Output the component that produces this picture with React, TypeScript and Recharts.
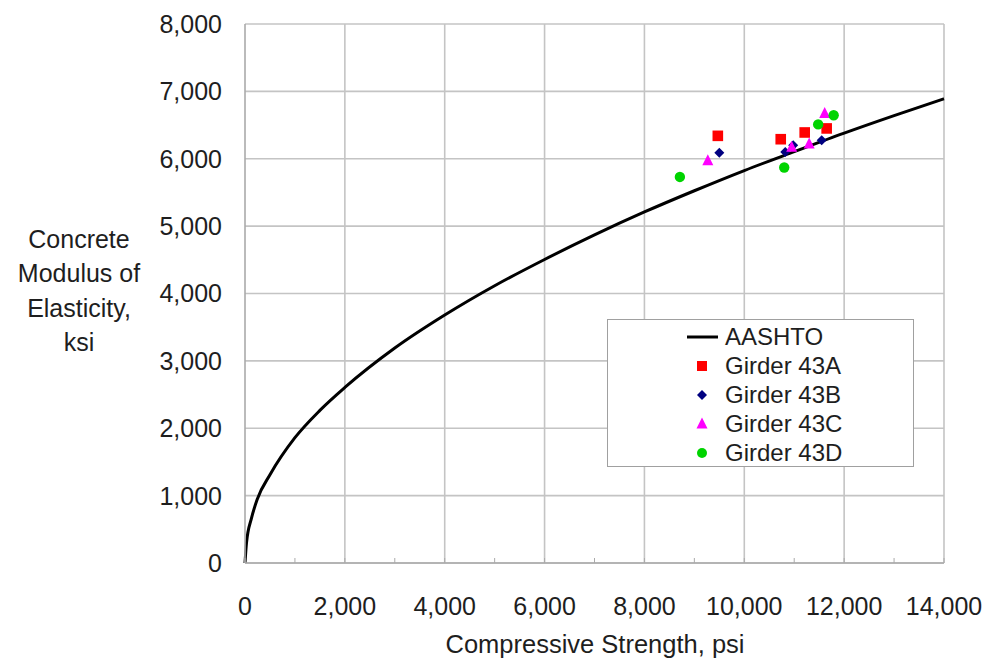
import React from "react";
import {
  ComposedChart,
  Line,
  Scatter,
  XAxis,
  YAxis,
  CartesianGrid,
  ReferenceLine,
} from "recharts";

// AASHTO design curve
const aashtoStrength = [0, 30, 130, 250, 500, 1000, 1500, 2000, 3000, 4000, 5000, 6000, 7000, 8000, 9000, 10000, 11000, 12000, 13000, 14000];
const aashtoModulus = [0, 300, 665, 955, 1310, 1860, 2265, 2605, 3190, 3680, 4115, 4505, 4870, 5210, 5525, 5825, 6105, 6380, 6640, 6890];

// measured girder points
const g43AStrength = [9470, 10730, 11210, 11650];
const g43AModulus = [6340, 6290, 6390, 6450];
const g43BStrength = [9500, 10820, 10980, 11550];
const g43BModulus = [6090, 6100, 6200, 6275];
const g43CStrength = [9270, 10950, 11300, 11610];
const g43CModulus = [5970, 6170, 6220, 6670];
const g43DStrength = [8710, 10800, 11480, 11790];
const g43DModulus = [5730, 5870, 6510, 6645];

const xTicks = [0, 1000, 2000, 3000, 4000, 5000, 6000, 7000, 8000, 9000, 10000, 11000, 12000, 13000, 14000];
const xGrid = [2000, 4000, 6000, 8000, 10000, 12000, 14000];
const yTicks = [0, 1000, 2000, 3000, 4000, 5000, 6000, 7000, 8000];

const zip = (xs: number[], ys: number[]) => xs.map((x, i) => ({ x, y: ys[i] }));

const aashto = zip(aashtoStrength, aashtoModulus);
const g43A = zip(g43AStrength, g43AModulus);
const g43B = zip(g43BStrength, g43BModulus);
const g43C = zip(g43CStrength, g43CModulus);
const g43D = zip(g43DStrength, g43DModulus);

const FONT = "'Liberation Sans', Arial, sans-serif";
const GRID = "#c4c4c4";
const TEXT = "#1e1e1e";

const Square = ({ cx, cy }: any) => <rect x={cx - 5.3} y={cy - 5.3} width={10.6} height={10.6} fill="#ff0000" />;
const Diamond = ({ cx, cy }: any) => (
  <polygon points={`${cx},${cy - 5} ${cx + 5},${cy} ${cx},${cy + 5} ${cx - 5},${cy}`} fill="#000080" />
);
const Triangle = ({ cx, cy }: any) => (
  <polygon points={`${cx},${cy - 6.5} ${cx + 5.5},${cy + 4.5} ${cx - 5.5},${cy + 4.5}`} fill="#ff00ff" />
);
const Circle = ({ cx, cy }: any) => <circle cx={cx} cy={cy} r={5.2} fill="#00d400" />;

const legendItems = [
  { name: "AASHTO", icon: <line x1={0} y1={10} x2={31} y2={10} stroke="#000" strokeWidth={3} /> },
  { name: "Girder 43A", icon: <rect x={10} y={5} width={10} height={10} fill="#ff0000" /> },
  { name: "Girder 43B", icon: <polygon points="15,5 20,10 15,15 10,10" fill="#000080" /> },
  { name: "Girder 43C", icon: <polygon points="15,3.5 20.5,14.5 9.5,14.5" fill="#ff00ff" /> },
  { name: "Girder 43D", icon: <circle cx={15} cy={10} r={5} fill="#00d400" /> },
];

const LegendBox = () => (
  <div
    style={{
      position: "absolute",
      left: 607,
      top: 319,
      width: 307,
      height: 148,
      boxSizing: "border-box",
      border: "1.5px solid #a0a0a0",
      background: "#fff",
      padding: "2px 0 0 79px",
      fontFamily: FONT,
      fontSize: 24,
      color: TEXT,
    }}
  >
    {legendItems.map((it) => (
      <div key={it.name} style={{ display: "flex", alignItems: "center", height: 29 }}>
        <svg width={32} height={20} style={{ marginRight: 6, flexShrink: 0 }}>
          {it.icon}
        </svg>
        <span style={{ lineHeight: "29px" }}>{it.name}</span>
      </div>
    ))}
  </div>
);

const YLabel = () => (
  <text x={79} y={248} textAnchor="middle" fill={TEXT} fontSize={25} fontFamily={FONT}>
    <tspan x={79} dy={0}>Concrete</tspan>
    <tspan x={79} dy={34.3}>Modulus of</tspan>
    <tspan x={79} dy={34.3}>Elasticity,</tspan>
    <tspan x={79} dy={34.3}>ksi</tspan>
  </text>
);

const XLabel = () => (
  <text x={595} y={653} textAnchor="middle" fill={TEXT} fontSize={25.5} fontFamily={FONT}>
    Compressive Strength, psi
  </text>
);

export default function App() {
  return (
    <div style={{ position: "absolute", left: 0, top: 0, width: 983, height: 660, background: "#fff", fontFamily: FONT }}>
      <ComposedChart width={983} height={660} margin={{ top: 24, right: 39, bottom: 0, left: 0 }}>
        <CartesianGrid vertical={false} stroke={GRID} strokeWidth={1.6} />
        {xGrid.map((v) => (
          <ReferenceLine key={v} x={v} stroke={GRID} strokeWidth={1.6} />
        ))}
        <XAxis
          type="number"
          dataKey="x"
          domain={[0, 14000]}
          ticks={xTicks}
          interval={0}
          tickFormatter={(v: number) => (v % 2000 === 0 ? v.toLocaleString("en-US") : "")}
          tickSize={-5}
          tickMargin={39}
          tickLine={{ stroke: "#aaa" }}
          axisLine={{ stroke: "#aaa", strokeWidth: 1.6 }}
          tick={{ fill: TEXT, fontSize: 25, fontFamily: FONT }}
          height={97}
          label={<XLabel />}
        />
        <YAxis
          type="number"
          dataKey="y"
          domain={[0, 8000]}
          ticks={yTicks}
          interval={0}
          tickFormatter={(v: number) => v.toLocaleString("en-US")}
          tickLine={false}
          tickSize={0}
          tickMargin={23}
          axisLine={{ stroke: "#aaa", strokeWidth: 1.6 }}
          tick={{ fill: TEXT, fontSize: 25, fontFamily: FONT }}
          width={245}
          label={<YLabel />}
        />
        <Line
          data={aashto}
          dataKey="y"
          name="AASHTO"
          type="monotone"
          dot={false}
          stroke="#000"
          strokeWidth={3}
          isAnimationActive={false}
        />
        <Scatter data={g43A} dataKey="y" name="Girder 43A" shape={Square} isAnimationActive={false} />
        <Scatter data={g43B} dataKey="y" name="Girder 43B" shape={Diamond} isAnimationActive={false} />
        <Scatter data={g43C} dataKey="y" name="Girder 43C" shape={Triangle} isAnimationActive={false} />
        <Scatter data={g43D} dataKey="y" name="Girder 43D" shape={Circle} isAnimationActive={false} />
      </ComposedChart>
      <LegendBox />
    </div>
  );
}
